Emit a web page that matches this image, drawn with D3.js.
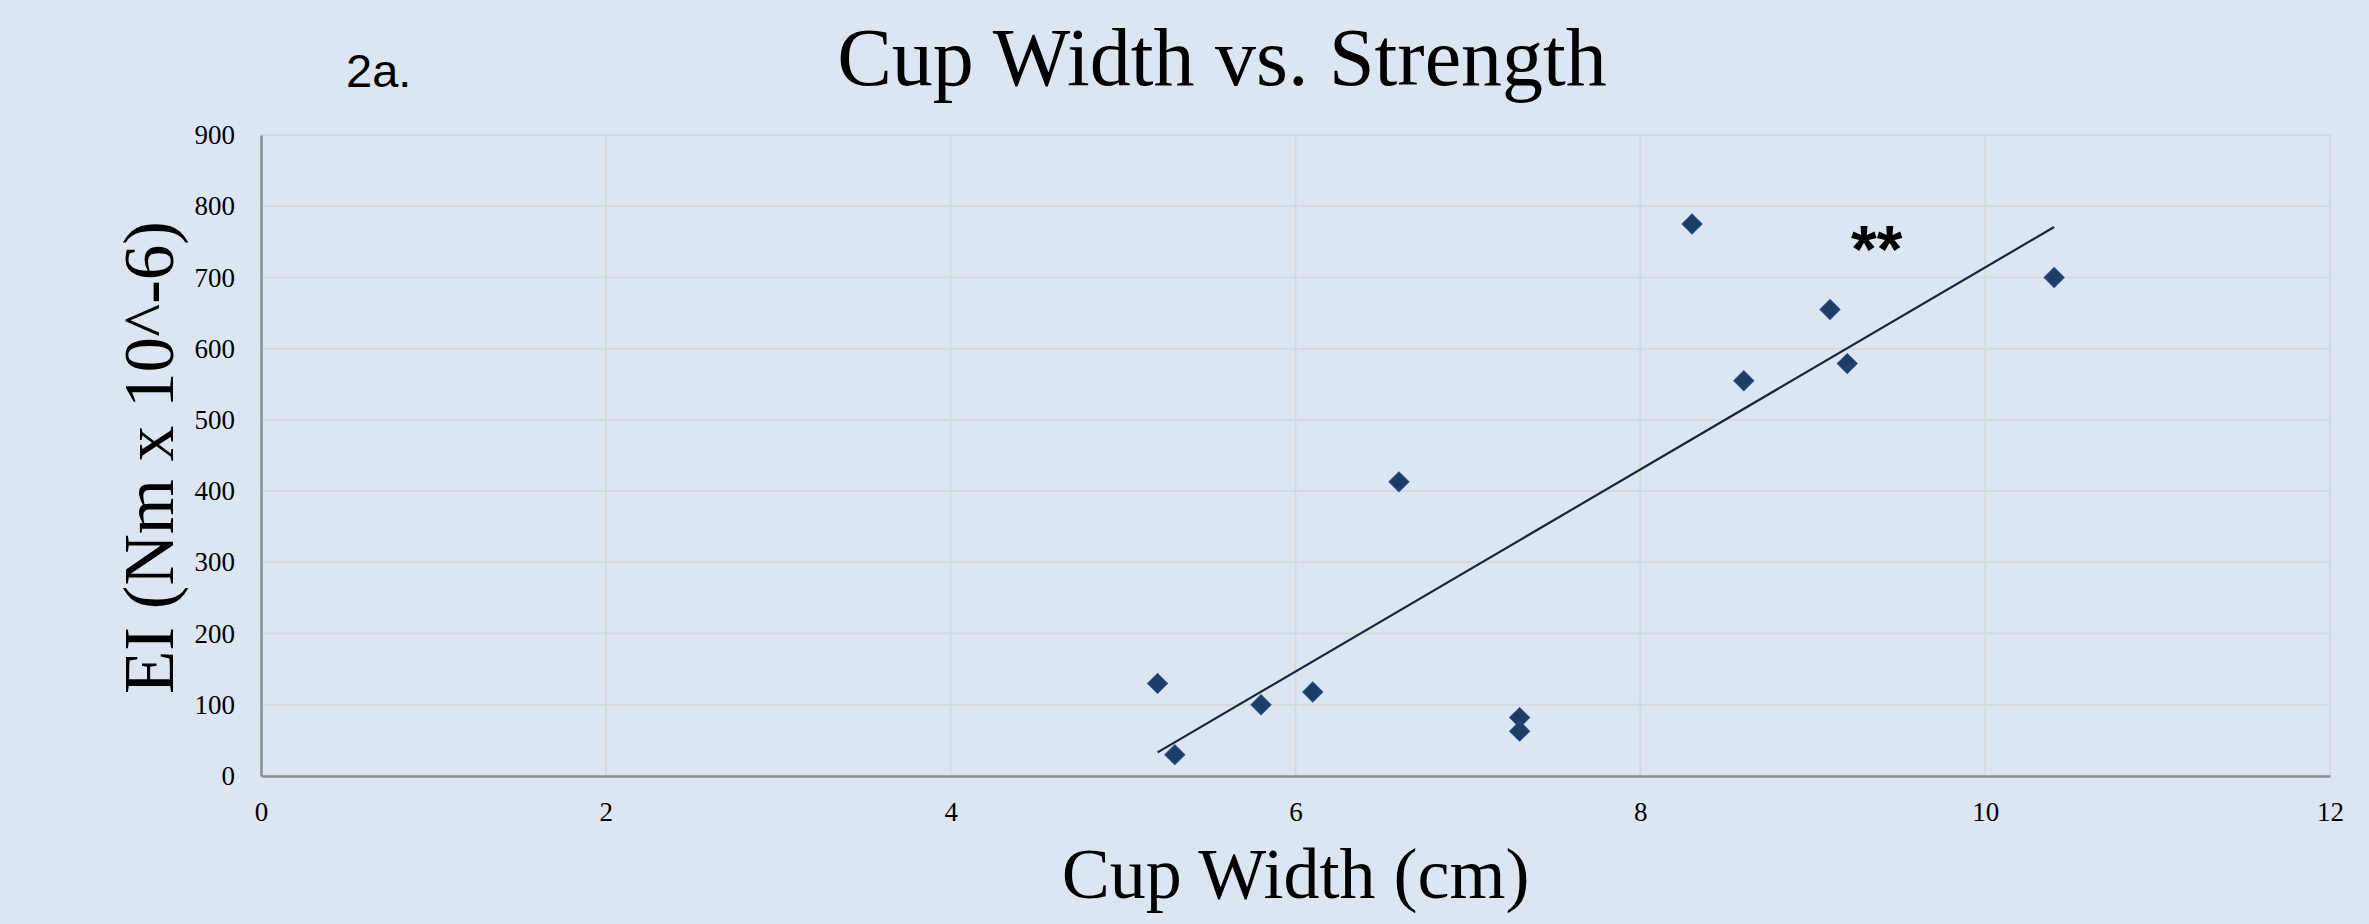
<!DOCTYPE html>
<html>
<head>
<meta charset="utf-8">
<script src="https://cdn.jsdelivr.net/npm/d3@7/dist/d3.min.js"></script>
<style>
  html, body { margin: 0; padding: 0; background: #dce6f2; }
  svg { display: block; }
</style>
</head>
<body>
<svg id="chart" width="2369" height="924"></svg>
<script>
// ---- data ----
const cupWidth = [5.2, 5.3, 5.8, 6.1, 6.6, 7.3, 7.3, 8.3, 8.6, 9.1, 9.2, 10.4];
const strengthEI = [130, 30, 100, 118, 413, 82, 63, 775, 555, 655, 579, 700];
const xTicks = [0, 2, 4, 6, 8, 10, 12];
const yTicks = [0, 100, 200, 300, 400, 500, 600, 700, 800, 900];
const chartTitle = "Cup Width vs. Strength";
const panelLabel = "2a.";
const xTitle = "Cup Width (cm)";
const yTitle = "EI (Nm x 10^-6)";
const significance = "**";

// ---- layout ----
const W = 2369, H = 924;
const m = { left: 261, right: W - 2330, top: 135, bottom: H - 776 };
const svg = d3.select("#chart");
svg.append("rect").attr("width", W).attr("height", H).attr("fill", "#dce6f2");

const x = d3.scaleLinear().domain([0, 12]).range([m.left, W - m.right]);
const y = d3.scaleLinear().domain([0, 900]).range([H - m.bottom, m.top]);

const serif = "'Liberation Serif', 'DejaVu Serif', serif";

// gridlines
svg.append("g").selectAll("line.h").data(yTicks.filter(d => d > 0)).join("line")
  .attr("x1", x(0)).attr("x2", x(12))
  .attr("y1", d => y(d)).attr("y2", d => y(d))
  .attr("stroke", "#d6d9dc").attr("stroke-width", 2);
svg.append("g").selectAll("line.v").data(xTicks.filter(d => d > 0)).join("line")
  .attr("y1", y(0)).attr("y2", y(900))
  .attr("x1", d => x(d)).attr("x2", d => x(d))
  .attr("stroke", "#d6d9dc").attr("stroke-width", 2);

// axes
const xAxis = svg.append("g").attr("transform", `translate(0,${y(0)})`)
  .call(d3.axisBottom(x).tickValues(xTicks).tickSize(0).tickPadding(26).tickFormat(d3.format("d")));
const yAxis = svg.append("g").attr("transform", `translate(${x(0)},0)`)
  .call(d3.axisLeft(y).tickValues(yTicks).tickSize(0).tickPadding(26).tickFormat(d3.format("d")));
[xAxis, yAxis].forEach(g => {
  g.select(".domain").attr("stroke", "#8c8c8c").attr("stroke-width", 2.5);
  g.selectAll("text").attr("font-family", serif).attr("font-size", 27).attr("fill", "#000");
});

// trendline (least squares)
const n = cupWidth.length;
const mx = d3.mean(cupWidth), my = d3.mean(strengthEI);
let sxy = 0, sxx = 0;
for (let i = 0; i < n; i++) { sxy += (cupWidth[i] - mx) * (strengthEI[i] - my); sxx += (cupWidth[i] - mx) ** 2; }
const slope = sxy / sxx, intercept = my - slope * mx;
const x0 = d3.min(cupWidth), x1 = d3.max(cupWidth);
svg.append("line")
  .attr("x1", x(x0)).attr("y1", y(intercept + slope * x0))
  .attr("x2", x(x1)).attr("y2", y(intercept + slope * x1))
  .attr("stroke", "#17253f").attr("stroke-width", 2.2);

// points (diamonds)
const sym = d3.symbol().type(d3.symbolSquare).size(200);
svg.append("g").selectAll("path").data(d3.range(n)).join("path")
  .attr("d", sym)
  .attr("transform", i => `translate(${x(cupWidth[i])},${y(strengthEI[i])}) rotate(45)`)
  .attr("fill", "#1c3c6a").attr("stroke", "#2a4f85").attr("stroke-width", 1);

// texts
svg.append("text").attr("x", 1222).attr("y", 85).attr("text-anchor", "middle")
  .attr("font-family", serif).attr("font-size", 82).attr("fill", "#000").text(chartTitle);
svg.append("text").attr("x", 346).attr("y", 87)
  .attr("font-family", "'Liberation Sans', Arial, sans-serif").attr("font-size", 47).attr("fill", "#000").text(panelLabel);
svg.append("text").attr("x", (x(0) + x(12)) / 2).attr("y", 898).attr("text-anchor", "middle")
  .attr("font-family", serif).attr("font-size", 72).attr("fill", "#000").text(xTitle);
svg.append("text").attr("transform", `translate(173,${(y(0) + y(900)) / 2 + 2}) rotate(-90)`)
  .attr("text-anchor", "middle")
  .attr("font-family", serif).attr("font-size", 71).attr("fill", "#000").text(yTitle);
svg.append("text").attr("x", 1851).attr("y", 272)
  .attr("font-family", "'Liberation Sans', Arial, sans-serif").attr("font-weight", "bold")
  .attr("font-size", 66).attr("fill", "#000").text(significance);
</script>
</body>
</html>
